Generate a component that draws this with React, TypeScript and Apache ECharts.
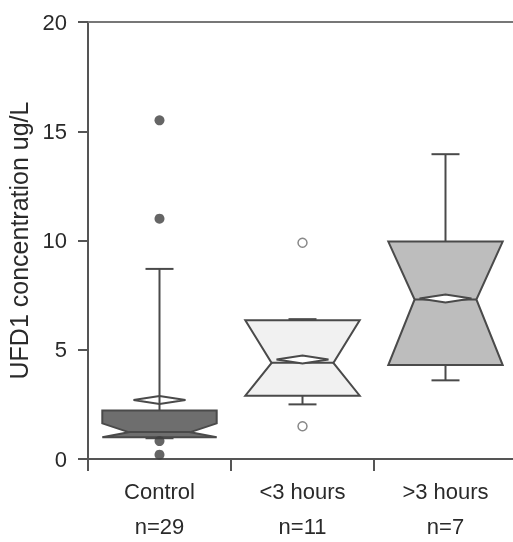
import React, { useEffect, useRef } from "react";
import * as echarts from "echarts";

const categories = ["Control", "<3 hours", ">3 hours"];
const nLabels = ["n=29", "n=11", "n=7"];
const whiskerLow = [0.95, 2.5, 3.6];
const q1 = [1.0, 2.9, 4.3];
const median = [1.23, 4.4, 7.3];
const q3 = [2.22, 6.35, 9.95];
const whiskerHigh = [8.7, 6.4, 13.95];
const mean = [2.7, 4.55, 7.35];
const notchLow = [0.9, 2.3, 4.0];
const notchHigh = [1.63, 6.6, 10.5];
const fills = ["#6e6e6e", "#f1f1f1", "#bdbdbd"];
const controlOutliers = [15.5, 11.0, 0.82, 0.2];
const earlyOutliers = [9.9, 1.5];

const FONT = "'Liberation Sans', Arial, Helvetica, sans-serif";
const STROKE = "#4a4a4a";

export default function App() {
  const ref = useRef<HTMLDivElement>(null);
  useEffect(() => {
    if (!ref.current) return;
    const chart = echarts.init(ref.current, null, { renderer: "svg" });
    const boxData = categories.map((_, i) => [
      i,
      whiskerLow[i],
      q1[i],
      median[i],
      q3[i],
      whiskerHigh[i],
      mean[i],
      Math.max(notchLow[i], q1[i]),
      Math.min(notchHigh[i], q3[i]),
    ]);
    const renderItem = (params: any, api: any) => {
      const idx = api.value(0);
      const p = (v: number) => api.coord([idx, v]);
      const band = api.size([1, 0])[0];
      const w = band * 0.8;
      const cx = p(0)[0];
      const l = cx - w / 2;
      const r = cx + w / 2;
      const inset = w * 0.23;
      const yWl = p(api.value(1))[1];
      const yQ1 = p(api.value(2))[1];
      const yMed = p(api.value(3))[1];
      const yQ3 = p(api.value(4))[1];
      const yWh = p(api.value(5))[1];
      const yMean = p(api.value(6))[1];
      const yNlo = p(api.value(7))[1];
      const yNhi = p(api.value(8))[1];
      const cap = 14;
      const ls = { stroke: STROKE, lineWidth: 2, fill: "none" };
      return {
        type: "group",
        children: [
          { type: "polygon", shape: { points: [[l, yQ3], [r, yQ3], [r, yNhi], [r - inset, yMed], [r, yNlo], [r, yQ1], [l, yQ1], [l, yNlo], [l + inset, yMed], [l, yNhi]] }, style: { fill: fills[idx], stroke: STROKE, lineWidth: 2 } },
          { type: "line", shape: { x1: l + inset, y1: yMed, x2: r - inset, y2: yMed }, style: ls },
          { type: "polygon", shape: { points: [[cx - 26, yMean], [cx, yMean - 4], [cx + 26, yMean], [cx, yMean + 4]] }, style: { fill: "#ffffff", stroke: STROKE, lineWidth: 2 } },
          { type: "line", shape: { x1: cx, y1: yQ3, x2: cx, y2: yWh }, style: ls },
          { type: "line", shape: { x1: cx - cap, y1: yWh, x2: cx + cap, y2: yWh }, style: ls },
          { type: "line", shape: { x1: cx, y1: yQ1, x2: cx, y2: yWl }, style: ls },
          { type: "line", shape: { x1: cx - cap, y1: yWl, x2: cx + cap, y2: yWl }, style: ls },
        ],
      };
    };
    chart.setOption({
      animation: false,
      textStyle: { fontFamily: FONT },
      grid: { left: 88, top: 22, right: -4, bottom: 83, containLabel: false, outerBoundsMode: "none" },
      xAxis: [
        {
          type: "category",
          data: categories,
          boundaryGap: true,
          axisLine: { lineStyle: { color: "#555", width: 2 } },
          axisTick: { show: true, length: 12, lineStyle: { color: "#555", width: 2 } },
          axisLabel: {
            formatter: (v: string, i: number) => v + "\n" + nLabels[i],
            fontSize: 22,
            lineHeight: 35,
            color: "#2a2a2a",
            margin: 15,
            fontFamily: FONT,
          },
        },
        {
          type: "category",
          data: categories,
          position: "top",
          axisLine: { lineStyle: { color: "#777", width: 2 } },
          axisTick: { show: false },
          axisLabel: { show: false },
        },
      ],
      yAxis: {
        type: "value",
        min: 0,
        max: 20,
        interval: 5,
        name: "UFD1 concentration ug/L",
        nameLocation: "middle",
        nameGap: 55,
        nameTextStyle: { fontSize: 25, color: "#2a2a2a", fontFamily: FONT },
        axisLine: { show: true, lineStyle: { color: "#555", width: 2 } },
        axisTick: { show: true, length: 10, lineStyle: { color: "#555", width: 2 } },
        axisLabel: { fontSize: 22, color: "#2a2a2a", margin: 21, fontFamily: FONT },
        splitLine: { show: false },
      },
      series: [
        {
          type: "custom",
          renderItem,
          data: boxData,
          encode: { x: 0, y: [1, 5] },
          z: 2,
        },
        {
          type: "scatter",
          data: controlOutliers.map((v) => [0, v]),
          symbol: "circle",
          symbolSize: 10,
          itemStyle: { color: "#3f3f3f" },
          z: 3,
        },
        {
          type: "scatter",
          data: earlyOutliers.map((v) => [1, v]),
          symbol: "circle",
          symbolSize: 9,
          itemStyle: { color: "#ffffff", borderColor: "#6a6a6a", borderWidth: 1.5 },
          z: 3,
        },
      ],
    });
    return () => chart.dispose();
  }, []);
  return <div ref={ref} style={{ position: "fixed", left: 0, top: 0, width: 513, height: 542 }} />;
}
